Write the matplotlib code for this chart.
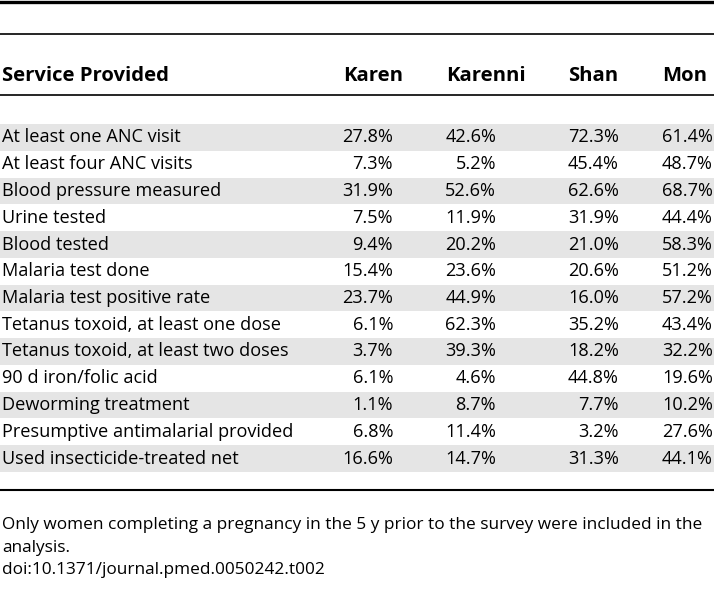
import matplotlib.pyplot as plt

# table data
services = [
    "At least one ANC visit",
    "At least four ANC visits",
    "Blood pressure measured",
    "Urine tested",
    "Blood tested",
    "Malaria test done",
    "Malaria test positive rate",
    "Tetanus toxoid, at least one dose",
    "Tetanus toxoid, at least two doses",
    "90 d iron/folic acid",
    "Deworming treatment",
    "Presumptive antimalarial provided",
    "Used insecticide-treated net",
]
groups = ["Karen", "Karenni", "Shan", "Mon"]
karen = [27.8, 7.3, 31.9, 7.5, 9.4, 15.4, 23.7, 6.1, 3.7, 6.1, 1.1, 6.8, 16.6]
karenni = [42.6, 5.2, 52.6, 11.9, 20.2, 23.6, 44.9, 62.3, 39.3, 4.6, 8.7, 11.4, 14.7]
shan = [72.3, 45.4, 62.6, 31.9, 21.0, 20.6, 16.0, 35.2, 18.2, 44.8, 7.7, 3.2, 31.3]
mon = [61.4, 48.7, 68.7, 44.4, 58.3, 51.2, 57.2, 43.4, 32.2, 19.6, 10.2, 27.6, 44.1]
footnote = ("Only women completing a pregnancy in the 5 y prior to the survey were included in the\n"
            "analysis.\n"
            "doi:10.1371/journal.pmed.0050242.t002")

plt.rcParams['font.family'] = ['Open Sans', 'DejaVu Sans']
FS = 13.1
FS_HEAD = 14.6
FS_NOTE = 12.4

fig = plt.figure(figsize=(7.14, 5.91), dpi=100)
ax = fig.add_axes([0, 0, 1, 1])
ax.set_xlim(0, 714)
ax.set_ylim(591, 0)
ax.axis('off')

# layout (pixels)
head_left = [343, 446, 568, 662]
val_right = [393, 496, 619, 713]
row0 = 137.5
pitch = 26.75

# rules
ax.axhline(1.5, color='black', lw=2.4)
ax.axhline(34, color='black', lw=1.2)
ax.axhline(95, color='black', lw=1.2)
ax.axhline(490, color='black', lw=1.5)

# header
ax.text(2, 76, "Service Provided", fontsize=FS_HEAD, fontweight='bold', va='center', ha='left')
for g, x in zip(groups, head_left):
    ax.text(x, 76, g, fontsize=FS_HEAD, fontweight='bold', va='center', ha='left')

cols = [karen, karenni, shan, mon]
for i, s in enumerate(services):
    y = row0 + i * pitch
    if i % 2 == 0:
        ax.axhspan(y - pitch / 2, y + pitch / 2, color='#e5e5e5', lw=0, zorder=0)
    ax.text(2, y, s, fontsize=FS, va='center', ha='left')
    for col, x in zip(cols, val_right):
        ax.text(x, y, f"{col[i]:.1f}%", fontsize=FS, va='center', ha='right')

ax.text(2, 517, footnote, fontsize=FS_NOTE, va='top', ha='left', linespacing=1.55)

fig.savefig('out.png', dpi=100)
